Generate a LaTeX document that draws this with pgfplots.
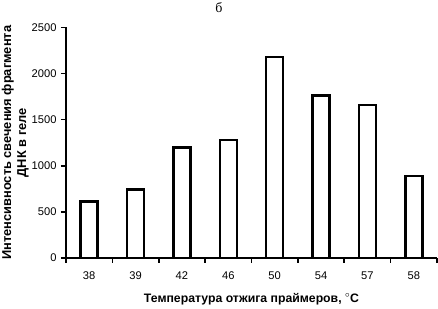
\documentclass[border=0pt]{standalone}
\usepackage{pgfplots}
\pgfplotsset{compat=1.18}
\usepackage{fontspec}
\setmainfont{Liberation Sans}
\newfontfamily\serifcyr{Liberation Serif}
\begin{document}
\begin{tikzpicture}
\path[use as bounding box] (-66bp,-51bp) rectangle (372bp,258bp);
\begin{axis}[
 at={(0,0)}, anchor=south west,
 scale only axis, width=371bp, height=230.6bp,
 xmin=-0.5, xmax=7.5, ymin=0, ymax=2500,
 axis lines*=left,
 axis line style={line width=2bp, -},
 ytick={0,500,...,2500},
 xtick={-0.5,0.5,...,7.5},
 x tick label as interval,
 xticklabels={38,39,42,46,50,54,57,58},
 tick align=outside, major tick length=5bp,
 tick style={line width=1.6bp, black},
 /pgf/number format/1000 sep={},
 /pgf/number format/assume math mode=true,
 tick label style={font=\fontsize{11.2}{13}\selectfont},
 xticklabel style={yshift=-5bp},
 yticklabel style={xshift=-1bp},
 xlabel={Температура отжига праймеров, $^{\circ}$С},
 xlabel style={at={(axis description cs:0.5,-0.178)}, anchor=center, font=\bfseries\fontsize{12.3}{14}\selectfont},
 ylabel={Интенсивность свечения фрагмента\\ДНК в геле},
 ylabel style={at={(axis description cs:-0.137,0.5)}, anchor=center, align=center, font=\bfseries\fontsize{12.9}{15}\selectfont},
 ybar, bar width=17bp, bar shift=0pt,
]
\addplot[draw=black, fill=white, line width=2.6bp] coordinates {
 (0,610) (1,740) (2,1200) (3,1280) (4,2180) (5,1760) (6,1660) (7,890)
};
\end{axis}
\node[font=\serifcyr\fontsize{14}{16}\selectfont, anchor=north] at (153bp,259bp) {б};
\end{tikzpicture}
\end{document}
